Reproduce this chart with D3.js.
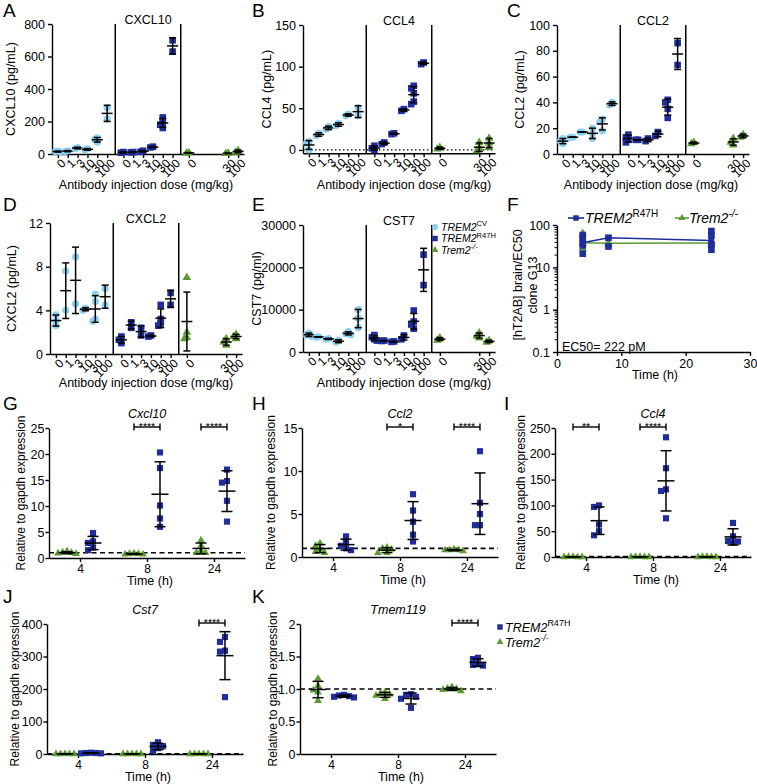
<!DOCTYPE html>
<html><head><meta charset="utf-8">
<script src="https://cdn.jsdelivr.net/npm/d3@7"></script>
<style>
body{margin:0;background:#fff;}
svg{display:block;}
</style></head><body>
<svg id="fig" width="757" height="784"></svg>
<script>
// ---------------- DATA ----------------
const doseLabels = ["0","1","3","10","30","100"];
const koDoseLabels = ["0","30","100"];
const genotypes = ["TREM2", "TREM2", "Trem2"];
const genotypeSups = ["CV", "R47H", "-/-"];

// A  CXCL10 (pg/mL)
const cxcl10CV   = [[18,12,15],[20,15],[40,33],[32,25],[100,90,72],[285,215]];
const cxcl10R47H = [[12,8],[12,10],[20,14],[45,40],[225,200,180,160],[700,630]];
const cxcl10KO   = [[8,5],[5,3],[22,10]];
// B  CCL4
const ccl4CV   = [[10,8,0],[20,17],[28,25],[32,29],[43,41],[51,41]];
const ccl4R47H = [[5,2,0],[9,7],[20,19],[49,47],[77,74,68,58,55],[105,103]];
const ccl4KO   = [[3,1],[9,2,-1],[14,8,3]];
// C  CCL2
const ccl2CV   = [[12,10,8],[13,13],[17,17],[20,16,12],[27,25,18],[40,38]];
const ccl2R47H = [[15,13,11,9],[11,11],[12,10],[17,14],[42,40,35,28],[86,69]];
const ccl2KO   = [[9,8],[12,9,7],[15,13]];
// D  CXCL2
const cxcl2CV   = [[3.6,3.0,2.6],[7.6,4.0],[8.9,4.6],[4.2,4.0],[5.5,4.8,3.2,3.0],[6.0,4.5]];
const cxcl2R47H = [[1.6,1.3,1.0],[2.9,2.4],[2.4,1.7],[1.7,1.6],[4.5,3.2,2.8,2.6],[5.6,4.5]];
const cxcl2KO   = [[7.0,2.0,1.5,1.4],[1.4,1.1,0.8],[1.8,1.6,1.4]];
// E  CST7 (pg/ml)
const cst7CV   = [[4500,4000,3700],[3600,3500],[3200,3000],[2800,2300],[4800,4300,4100],[10000,8000,5700]];
const cst7R47H = [[4000,3500,3000,2700],[2700,2600],[2500,2400],[3900,3000],[9800,7200,6500,5500],[23000,15800]];
const cst7KO   = [[3300,2800],[4500,3800,3300],[2700,2300]];

// F  [hT2AB] brain/EC50 vs time
const fTimes = [4, 8, 24];
const fR47HPoints = [[58,48,40,33,21],[50,31],[72,56,35,26]];
const fR47HMeans  = [38, 50, 43];
const fKOPoints   = [[64,36,28],[38,35],[40,36]];
const fKOMeans    = [38, 37, 37.5];
const fTicks = [0, 10, 20, 30];
const fYTicks = [0.1, 1, 10, 100];

// G-K relative to gapdh expression
const timeLabels = ["4","8","24"];
const cxcl10KOt   = [[1.3,1.1,1.0,0.9,0.8],[0.9,0.8,0.8,0.7,0.7],[3.4,2.4,1.4,1.0,1.0]];
const cxcl10R47Ht = [[4.8,3.2,2.9,2.0,1.5],[20.3,17.3,10.1,7.6,6.0],[17.0,14.8,14.5,11.0,7.0]];
const cxcl10Sig   = ["","****","****"];
const ccl2KOt   = [[1.6,1.3,0.9,0.5,0.6],[1.1,1.0,0.9,0.5,0.5],[0.9,0.8,0.8,0.8,0.7]];
const ccl2R47Ht = [[2.4,1.7,1.3,1.0,0.8],[7.3,5.4,4.1,2.6,1.8],[12.3,6.3,5.0,3.7,3.7]];
const ccl2Sig   = ["","*","****"];
const ccl4KOt   = [[0.4,0.3,0.2,0.2,0.1],[0.4,0.3,0.2,0.2,0.1],[0.4,0.3,0.2,0.2,0.1]];
const ccl4R47Ht = [[100,97,63,50,42],[232,172,131,128,75],[66,40,31,30,28]];
const ccl4Sig   = ["**","****",""];
const cst7KOt   = [[0.4,0.3,0.2,0.2,0.1],[0.4,0.3,0.2,0.2,0.1],[0.4,0.3,0.2,0.2,0.1]];
const cst7R47Ht = [[4,3,3,2,2],[36,28,24,18,10],[360,345,318,315,175]];
const cst7Sig   = ["","","****"];
const tmemKOt   = [[1.16,1.05,0.98,0.95,0.82],[0.95,0.93,0.92,0.9,0.85],[1.03,1.01,1.0,0.99,0.97]];
const tmemR47Ht = [[0.91,0.9,0.89,0.88,0.87],[0.92,0.91,0.88,0.85,0.71],[1.48,1.46,1.38,1.37,1.36]];
const tmemSig   = ["","","****"];

// ---------------- DRAWING ----------------
const svg = d3.select("#fig");
const FONT = "'Liberation Sans', Arial, Helvetica, sans-serif";
const C_CV = "#8ccff0", C_R = "#1f2e9c", C_KO = "#5b9b30";
svg.attr("font-family", FONT);

function styleAxis(g, fs) {
  g.attr("font-family", FONT).attr("font-size", fs || 12);
  g.select(".domain").attr("stroke", "#000").attr("stroke-width", 1.4);
  g.selectAll(".tick line").attr("stroke", "#000").attr("stroke-width", 1.4);
  g.selectAll(".tick text").attr("fill", "#000");
}
function sym(type, size) { return d3.symbol().type(type).size(size)(); }

function swarm(vals, y, cx, step, minDy) {
  const pts = vals.map((v, i) => ({ v, y: y(v), i }));
  const order = [...pts].sort((a, b) => a.y - b.y);
  const placed = [];
  order.forEach(p => {
    for (let k = 0; k < 40; k++) {
      const off = k === 0 ? 0 : (k % 2 ? -1 : 1) * Math.ceil(k / 2) * step;
      const clash = placed.some(q => Math.abs(q.y - p.y) < minDy && Math.abs(q.dx - off) < step * 0.9);
      if (!clash) { p.dx = off; placed.push(p); break; }
    }
  });
  pts.forEach(p => p.x = cx + p.dx);
  return pts;
}

function errBar(g, cx, y, vals, hm, hc) {
  const m = d3.mean(vals);
  const line = (x1, y1, x2, y2) => g.append("line").attr("x1", x1).attr("y1", y1).attr("x2", x2).attr("y2", y2)
      .attr("stroke", "#000").attr("stroke-width", 1.5);
  if (vals.length > 1) {
    const s = d3.deviation(vals);
    line(cx, y(m - s), cx, y(m + s));
    line(cx - hc, y(m - s), cx + hc, y(m - s));
    line(cx - hc, y(m + s), cx + hc, y(m + s));
  }
  line(cx - hm, y(m), cx + hm, y(m));
}

function letter(t, x, y) {
  svg.append("text").attr("x", x).attr("y", y).attr("font-size", 19).attr("fill", "#000").text(t);
}
function yLabel(x, yc, lines, fs) {
  const t = svg.append("text").attr("transform", `translate(${x},${yc}) rotate(-90)`)
    .attr("text-anchor", "middle").attr("font-size", fs || 12.5).attr("fill", "#000");
  lines.forEach((l, i) => t.append("tspan").attr("x", 0).attr("dy", i === 0 ? (-(lines.length - 1) * 0.5 + 0.35) + "em" : "1.15em").text(l));
}
function supText(g, x, y, main, sup, fs) {
  const t = g.append("text").attr("x", x).attr("y", y).attr("font-size", fs).attr("fill", "#000");
  t.append("tspan").attr("font-style", "italic").text(main);
  t.append("tspan").attr("font-size", fs * 0.72).attr("dy", -fs * 0.42)
    .attr("font-style", sup === "-/-" ? "italic" : "normal").text(sup);
}

const topPanels = [
  { letter: "A", lx: 3, ly: 17, x0: 52, yTop: 24, yBot: 154, domain: [0, 800], ticks: [0, 200, 400, 600, 800], title: "CXCL10", ylab: "CXCL10 (pg/mL)", ylabX: 11, xlabX: 146, xlabY: 189, series: [cxcl10CV, cxcl10R47H, cxcl10KO] },
  { letter: "B", lx: 252, ly: 17, x0: 303, yTop: 25, yBot: 153.3, domain: [-4, 150], ticks: [0, 50, 100, 150], dotted: true, title: "CCL4", ylab: "CCL4 (pg/mL)", ylabX: 267, xlabX: 404, xlabY: 189, series: [ccl4CV, ccl4R47H, ccl4KO] },
  { letter: "C", lx: 507, ly: 17, x0: 557, yTop: 25, yBot: 154, domain: [0, 100], ticks: [0, 20, 40, 60, 80, 100], title: "CCL2", ylab: "CCL2 (pg/mL)", ylabX: 520, xlabX: 651, xlabY: 189, series: [ccl2CV, ccl2R47H, ccl2KO] },
  { letter: "D", lx: 3, ly: 211, x0: 50, yTop: 223, yBot: 354, domain: [0, 12], ticks: [0, 4, 8, 12], title: "CXCL2", ylab: "CXCL2 (pg/mL)", ylabX: 12, xlabX: 146, xlabY: 387, series: [cxcl2CV, cxcl2R47H, cxcl2KO] },
  { letter: "E", lx: 252, ly: 211, x0: 303, yTop: 225, yBot: 352, domain: [0, 30000], ticks: [0, 10000, 20000, 30000], title: "CST7", ylab: "CST7 (pg/ml)", ylabX: 257, xlabX: 404, xlabY: 387, series: [cst7CV, cst7R47H, cst7KO] }
];

const GAP = 6.65;
function drawTop(p) {
  const g = svg.append("g");
  const y = d3.scaleLinear().domain(p.domain).range([p.yBot, p.yTop]);
  const x = d3.scaleLinear().domain([-0.6, 18.9]).range([p.x0, p.x0 + 192]);
  const pos = [], labs = [];
  [0, 1].forEach(gi => doseLabels.forEach((d, si) => { pos.push(gi * GAP + si); labs.push(d); }));
  koDoseLabels.forEach(d => { pos.push(2 * GAP + doseLabels.indexOf(d)); labs.push(d); });

  const ya = g.append("g").attr("transform", `translate(${p.x0},0)`)
    .call(d3.axisLeft(y).tickValues(p.ticks).tickSize(4).tickSizeOuter(0).tickFormat(d3.format("d")));
  styleAxis(ya, 12.5);
  const xa = g.append("g").attr("transform", `translate(0,${p.yBot})`)
    .call(d3.axisBottom(x).tickValues(pos).tickSize(4).tickSizeOuter(0).tickFormat((d, i) => labs[i]));
  styleAxis(xa, 12);
  xa.selectAll(".tick text").attr("x", 0).attr("y", 0).attr("dy", "0.35em")
    .attr("text-anchor", "end").attr("transform", "translate(5,7) rotate(-45)");

  // dividers
  [(5 + GAP) / 2, (5 + GAP) / 2 + GAP].forEach(d => {
    g.append("line").attr("x1", x(d)).attr("x2", x(d)).attr("y1", p.yTop).attr("y2", p.yBot)
      .attr("stroke", "#000").attr("stroke-width", 1.5);
  });
  if (p.dotted) {
    g.append("line").attr("x1", p.x0).attr("x2", p.x0 + 192).attr("y1", y(0)).attr("y2", y(0))
      .attr("stroke", "#000").attr("stroke-width", 1.2).attr("stroke-dasharray", "1.5,2.5");
  }
  const types = [d3.symbolCircle, d3.symbolSquare, d3.symbolTriangle];
  const sizes = [40, 44, 32];
  const cols = [C_CV, C_R, C_KO];
  p.series.forEach((ser, gi) => {
    ser.forEach((vals, k) => {
      const slot = gi < 2 ? k : doseLabels.indexOf(koDoseLabels[k]);
      const cx = x(gi * GAP + slot);
      const pts = swarm(vals, y, cx, 2.5, 4);
      g.selectAll(null).data(pts).enter().append("path")
        .attr("d", sym(types[gi], sizes[gi]))
        .attr("transform", d => `translate(${d.x},${d.y})`)
        .attr("fill", cols[gi]);
      errBar(g, cx, y, vals, 5.5, 3.5);
    });
  });
  g.append("text").attr("x", x(GAP + 2.5)).attr("y", p.yTop).attr("text-anchor", "middle")
    .attr("font-size", 12.5).attr("fill", "#000").text(p.title);
  g.append("text").attr("x", p.xlabX).attr("y", p.xlabY).attr("text-anchor", "middle")
    .attr("font-size", 12.5).attr("fill", "#000").text("Antibody injection dose (mg/kg)");
  yLabel(p.ylabX, (p.yTop + p.yBot) / 2, [p.ylab]);
  letter(p.letter, p.lx, p.ly);
}
topPanels.forEach(drawTop);

// legend E
(function () {
  const g = svg.append("g");
  const types = [d3.symbolCircle, d3.symbolSquare, d3.symbolTriangle];
  const sizes = [26, 30, 20];
  const cols = [C_CV, C_R, C_KO];
  genotypes.forEach((name, i) => {
    const yy = 227 + i * 11.5;
    g.append("path").attr("d", sym(types[i], sizes[i])).attr("transform", `translate(435,${yy})`).attr("fill", cols[i]);
    supText(g, 441, yy + 3.8, name, genotypeSups[i], 10.5);
  });
})();

// Panel F
(function () {
  const g = svg.append("g");
  const y = d3.scaleLog().domain([0.1, 100]).range([352, 225]);
  const x = d3.scaleLinear().domain([0, 30]).range([557, 750]);
  const ya = g.append("g").attr("transform", "translate(557,0)")
    .call(d3.axisLeft(y).tickValues(fYTicks).tickSize(4).tickSizeOuter(0).tickFormat(d => String(d)));
  styleAxis(ya, 12.5);
  const minors = [];
  [0.1, 1, 10].forEach(b => { for (let k = 2; k <= 9; k++) minors.push(b * k); });
  const ym = g.append("g").attr("transform", "translate(557,0)")
    .call(d3.axisLeft(y).tickValues(minors).tickSize(2.5).tickSizeOuter(0).tickFormat(""));
  styleAxis(ym); ym.select(".domain").remove();
  ym.selectAll(".tick line").attr("stroke-width", 1);
  const xa = g.append("g").attr("transform", "translate(0,352)")
    .call(d3.axisBottom(x).tickValues(fTicks).tickSize(4).tickSizeOuter(0));
  styleAxis(xa, 12.5);
  const line = d3.line().x((d, i) => x(fTimes[i])).y(d => y(d));
  g.append("path").datum(fKOMeans).attr("d", line).attr("fill", "none").attr("stroke", C_KO).attr("stroke-width", 1.6);
  fKOPoints.forEach((vals, i) => vals.forEach(v =>
    g.append("path").attr("d", sym(d3.symbolTriangle, 30)).attr("transform", `translate(${x(fTimes[i])},${y(v)})`).attr("fill", C_KO)));
  g.append("path").datum(fR47HMeans).attr("d", line).attr("fill", "none").attr("stroke", C_R).attr("stroke-width", 1.6);
  fR47HPoints.forEach((vals, i) => vals.forEach(v =>
    g.append("path").attr("d", sym(d3.symbolSquare, 44)).attr("transform", `translate(${x(fTimes[i])},${y(v)})`).attr("fill", C_R)));
  fR47HMeans.forEach((v, i) => g.append("path").attr("d", sym(d3.symbolSquare, 30)).attr("transform", `translate(${x(fTimes[i])},${y(v)})`).attr("fill", C_R));
  // legend
  g.append("line").attr("x1", 568).attr("x2", 584).attr("y1", 218).attr("y2", 218).attr("stroke", C_R).attr("stroke-width", 1.6);
  g.append("path").attr("d", sym(d3.symbolSquare, 30)).attr("transform", "translate(576,218)").attr("fill", C_R);
  supText(g, 585, 223, genotypes[1], genotypeSups[1], 14);
  g.append("line").attr("x1", 675).attr("x2", 689).attr("y1", 218).attr("y2", 218).attr("stroke", C_KO).attr("stroke-width", 1.6);
  g.append("path").attr("d", sym(d3.symbolTriangle, 22)).attr("transform", "translate(682,218)").attr("fill", C_KO);
  supText(g, 689, 223, genotypes[2], genotypeSups[2], 14);
  g.append("text").attr("x", 562).attr("y", 351).attr("font-size", 12.5).attr("fill", "#000").text("EC50= 222 pM");
  g.append("text").attr("x", 655).attr("y", 379).attr("text-anchor", "middle").attr("font-size", 12.5).attr("fill", "#000").text("Time (h)");
  yLabel(524, 285, ["[hT2AB] brain/EC50", "clone G13"]);
  letter("F", 507, 211);
})();

// Panels G-K
const botPanels = [
  { letter: "G", lx: 3, ly: 410, x0: 49, yTop: 428, yBot: 558, domain: [0, 25], ticks: [0, 5, 10, 15, 20, 25], title: "Cxcl10", ylabX: 21, ko: cxcl10KOt, r: cxcl10R47Ht, sig: cxcl10Sig },
  { letter: "H", lx: 252, ly: 410, x0: 302, yTop: 428, yBot: 557, domain: [0, 15], ticks: [0, 5, 10, 15], title: "Ccl2", ylabX: 271, ko: ccl2KOt, r: ccl2R47Ht, sig: ccl2Sig },
  { letter: "I", lx: 504, ly: 410, x0: 555, yTop: 428, yBot: 557, domain: [0, 250], ticks: [0, 50, 100, 150, 200, 250], title: "Ccl4", ylabX: 521, ko: ccl4KOt, r: ccl4R47Ht, sig: ccl4Sig },
  { letter: "J", lx: 3, ly: 603, x0: 47, yTop: 624, yBot: 754, domain: [0, 400], ticks: [0, 100, 200, 300, 400], title: "Cst7", ylabX: 15, ko: cst7KOt, r: cst7R47Ht, sig: cst7Sig },
  { letter: "K", lx: 252, ly: 603, x0: 300, yTop: 624, yBot: 754, domain: [0, 2], ticks: [0, 0.5, 1, 1.5, 2], fmt: d => (d === 0 || d === 2) ? String(d) : d.toFixed(1), title: "Tmem119", ylabX: 273, ko: tmemKOt, r: tmemR47Ht, sig: tmemSig }
];
function drawBot(p) {
  const g = svg.append("g");
  const y = d3.scaleLinear().domain(p.domain).range([p.yBot, p.yTop]);
  const x = d3.scaleLinear().domain([-0.463, 2.463]).range([p.x0, p.x0 + 196]);
  const ya = g.append("g").attr("transform", `translate(${p.x0},0)`)
    .call(d3.axisLeft(y).tickValues(p.ticks).tickSize(3.5).tickPadding(1).tickSizeOuter(0).tickFormat(p.fmt || d3.format("d")));
  styleAxis(ya, 12.5);
  const xa = g.append("g").attr("transform", `translate(0,${p.yBot})`)
    .call(d3.axisBottom(x).tickValues([0, 1, 2]).tickSize(4).tickPadding(2).tickSizeOuter(0).tickFormat((d, i) => timeLabels[i]));
  styleAxis(xa, 12);
  g.append("line").attr("x1", p.x0).attr("x2", p.x0 + 196).attr("y1", y(1)).attr("y2", y(1))
    .attr("stroke", "#000").attr("stroke-width", 1.6).attr("stroke-dasharray", "5,3.5");
  const OFF = 13;
  p.ko.forEach((vals, i) => {
    const cx = x(i) - OFF;
    swarm(vals, y, cx, 4.5, 5).forEach(d => g.append("path").attr("d", sym(d3.symbolTriangle, 26))
      .attr("transform", `translate(${d.x},${d.y})`).attr("fill", C_KO));
  });
  p.r.forEach((vals, i) => {
    const cx = x(i) + OFF;
    swarm(vals, y, cx, 5, 5.5).forEach(d => g.append("path").attr("d", sym(d3.symbolSquare, 38))
      .attr("transform", `translate(${d.x},${d.y})`).attr("fill", C_R));
  });
  p.ko.forEach((vals, i) => errBar(g, x(i) - OFF, y, vals, 8.5, 5.5));
  p.r.forEach((vals, i) => errBar(g, x(i) + OFF, y, vals, 8.5, 5.5));
  p.sig.forEach((s, i) => {
    if (!s) return;
    const by = p.yTop - 1, x1 = x(i) - OFF, x2 = x(i) + OFF;
    const ln = (a, b, c, d) => g.append("line").attr("x1", a).attr("y1", b).attr("x2", c).attr("y2", d).attr("stroke", "#000").attr("stroke-width", 1.4);
    ln(x1, by, x2, by); ln(x1, by - 3.5, x1, by + 3.5); ln(x2, by - 3.5, x2, by + 3.5);
    g.append("text").attr("transform", `translate(${(x1 + x2) / 2},${by + 3}) rotate(0.2)`).attr("text-anchor", "middle")
      .attr("font-size", 10.5).attr("fill", "#000").attr("opacity", 0.99).text(s);
  });
  g.append("text").attr("x", x(1)).attr("y", p.yTop - 10).attr("text-anchor", "middle")
    .attr("font-size", 12.5).attr("font-style", "italic").attr("fill", "#000").text(p.title);
  g.append("text").attr("x", x(1) + 3).attr("y", p.yBot + 27).attr("text-anchor", "middle")
    .attr("font-size", 12.5).attr("fill", "#000").text("Time (h)");
  yLabel(p.ylabX, (p.yTop + p.yBot) / 2, ["Relative to gapdh expression"], 12);
  letter(p.letter, p.lx, p.ly);
}
botPanels.forEach(drawBot);

// legend K
(function () {
  const g = svg.append("g");
  g.append("path").attr("d", sym(d3.symbolSquare, 30)).attr("transform", "translate(500,627)").attr("fill", C_R);
  supText(g, 505, 631.5, genotypes[1], genotypeSups[1], 12.5);
  g.append("path").attr("d", sym(d3.symbolTriangle, 20)).attr("transform", "translate(500,642)").attr("fill", C_KO);
  supText(g, 505, 646.5, genotypes[2], genotypeSups[2], 12.5);
})();
</script></body></html>
